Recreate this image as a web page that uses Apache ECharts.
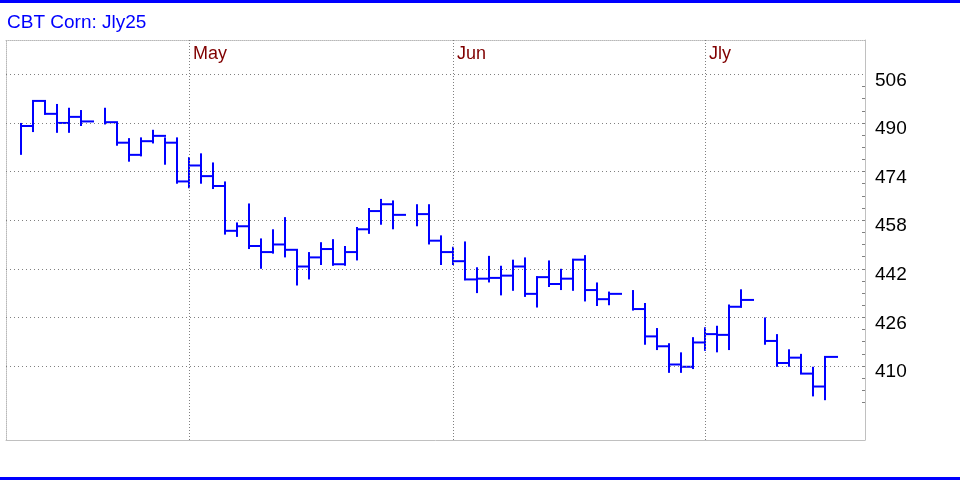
<!DOCTYPE html>
<html>
<head>
<meta charset="utf-8">
<script src="https://cdn.jsdelivr.net/npm/echarts@6/dist/echarts.min.js"></script>
<style>
html,body{margin:0;padding:0;background:#fff;}
#chart{width:960px;height:480px;}
</style>
</head>
<body>
<div id="chart"></div>
<script>
// Weekday slots (holidays kept as empty slots)
var dates = ['2025-04-10','2025-04-11','2025-04-14','2025-04-15','2025-04-16','2025-04-17','2025-04-18',
  '2025-04-21','2025-04-22','2025-04-23','2025-04-24','2025-04-25','2025-04-28','2025-04-29','2025-04-30',
  '2025-05-01','2025-05-02','2025-05-05','2025-05-06','2025-05-07','2025-05-08','2025-05-09',
  '2025-05-12','2025-05-13','2025-05-14','2025-05-15','2025-05-16','2025-05-19','2025-05-20','2025-05-21',
  '2025-05-22','2025-05-23','2025-05-26','2025-05-27','2025-05-28','2025-05-29','2025-05-30',
  '2025-06-02','2025-06-03','2025-06-04','2025-06-05','2025-06-06','2025-06-09','2025-06-10','2025-06-11',
  '2025-06-12','2025-06-13','2025-06-16','2025-06-17','2025-06-18','2025-06-19','2025-06-20',
  '2025-06-23','2025-06-24','2025-06-25','2025-06-26','2025-06-27','2025-06-30',
  '2025-07-01','2025-07-02','2025-07-03','2025-07-04','2025-07-07','2025-07-08','2025-07-09','2025-07-10',
  '2025-07-11','2025-07-14'];

var highs = [490.0,497.25,497.25,496.25,495.0,494.25,null,
  495.0,490.25,485.0,485.25,487.75,485.25,485.25,478.75,
  480.0,477.0,470.75,457.25,463.5,452.0,455.0,
  459.0,448.25,447.5,450.75,451.75,449.5,455.75,462.0,
  465.0,464.5,null,463.25,463.25,453.0,449.25,
  451.0,442.5,446.25,443.0,445.0,445.75,439.5,444.75,
  442.0,445.25,446.5,437.5,434.5,null,435.0,
  430.75,422.5,417.5,414.5,419.5,422.75,
  423.25,430.25,435.25,null,426.0,420.5,415.5,414.0,
  409.75,413.0];

var lows = [479.5,487.0,492.75,486.75,486.75,489.0,null,
  489.5,482.5,477.25,479.0,483.25,476.25,470.0,468.5,
  470.0,468.25,453.25,452.5,448.5,442.0,447.0,
  445.75,436.5,438.5,443.25,443.0,443.0,444.75,453.5,
  456.5,455.0,null,456.0,450.0,443.25,443.25,
  438.25,434.0,437.5,433.25,434.75,432.75,429.25,436.0,
  435.0,434.75,431.25,429.75,430.0,null,428.25,
  417.0,415.25,407.75,407.75,409.0,415.0,
  414.5,415.25,429.25,null,417.0,409.75,409.75,407.5,
  400.0,398.75];

var closes = [489.0,497.25,493.0,490.0,492.0,490.5,null,
  490.25,483.5,479.5,484.0,485.75,483.5,470.75,476.0,
  472.5,469.25,454.5,456.0,449.5,447.5,450.0,
  448.25,442.75,445.75,448.5,443.5,447.5,455.0,461.0,
  463.25,459.75,null,460.0,451.25,447.5,444.5,
  438.5,438.75,439.0,439.75,442.75,433.75,439.25,437.0,
  438.75,445.0,435.0,432.0,433.75,null,428.75,
  419.75,416.5,410.5,409.75,417.75,420.5,
  420.25,429.5,431.75,null,418.25,411.0,412.75,407.5,
  403.25,413.0];

var yTickLabels = [410, 426, 442, 458, 474, 490, 506];
var yMinorTicks = [398,402,406,410,414,418,422,426,430,434,438,442,446,450,454,458,
  462,466,470,474,478,482,486,490,494,498,502];
var monthNames = ['Jan','Feb','Mar','Apr','May','Jun','Jly','Aug','Sep','Oct','Nov','Dec'];

// month boundary markers: at last slot of a month, labelled with next month
var monthSlots = [], monthLabels = {};
for (var i = 0; i < dates.length - 1; i++) {
  var m1 = +dates[i].slice(5, 7), m2 = +dates[i + 1].slice(5, 7);
  if (m1 !== m2) { monthSlots.push(i); monthLabels[i] = monthNames[m2 - 1]; }
}

var barData = [];
for (var k = 0; k < dates.length; k++) {
  if (highs[k] == null) continue;
  barData.push([k, highs[k], lows[k], closes[k]]);
}

var X_MIN = -1.25, X_MAX = 70.3333;
var Y_MIN = 385.65, Y_MAX = 517.3;
var FONT = '"Liberation Sans", Arial, sans-serif';

var chart = echarts.init(document.getElementById('chart'), null, {renderer: 'canvas'});
chart.setOption({
  animation: false,
  backgroundColor: '#ffffff',
  title: {
    text: 'CBT Corn: Jly25', left: 2, top: 8,
    textStyle: {color: '#0000ff', fontSize: 19, fontWeight: 'normal', fontFamily: FONT}
  },
  graphic: [
    {type: 'rect', left: 0, top: 0, shape: {width: 960, height: 3}, style: {fill: '#0000ff'}, silent: true},
    {type: 'rect', left: 0, top: 477, shape: {width: 960, height: 3}, style: {fill: '#0000ff'}, silent: true}
  ],
  grid: {left: 6, top: 40, right: 95, bottom: 40, containLabel: false},
  xAxis: [
    {type: 'value', min: X_MIN, max: X_MAX, position: 'bottom',
     axisLine: {show: true, onZero: false, lineStyle: {color: '#c0c0c0', width: 1}},
     axisTick: {show: false}, axisLabel: {show: false}, splitLine: {show: false}},
    {type: 'value', min: X_MIN, max: X_MAX, position: 'top',
     axisLine: {show: true, onZero: false, lineStyle: {color: '#b8b8b8', width: 1, type: [1, 1]}},
     axisTick: {show: false}, splitLine: {show: false},
     axisLabel: {show: true, inside: true, customValues: monthSlots,
       formatter: function (v) { return monthLabels[Math.round(v)] || ''; },
       color: '#800000', fontSize: 18, fontFamily: FONT, align: 'left', verticalAlign: 'middle',
       margin: 14, padding: [0, 0, 0, 4]}}
  ],
  yAxis: [
    {type: 'value', min: Y_MIN, max: Y_MAX, position: 'right',
     axisLine: {show: true, onZero: false, lineStyle: {color: '#c0c0c0', width: 1}},
     axisTick: {show: true, inside: true, length: 3, customValues: yMinorTicks, lineStyle: {color: '#808080'}},
     axisLabel: {show: true, customValues: yTickLabels, margin: 10, color: '#000000', fontSize: 19,
       fontFamily: FONT, verticalAlign: 'top', lineHeight: 12},
     splitLine: {show: false}},
    {type: 'value', min: Y_MIN, max: Y_MAX, position: 'left',
     axisLine: {show: true, onZero: false, lineStyle: {color: '#b8b8b8', width: 1, type: [1, 1]}},
     axisTick: {show: false}, axisLabel: {show: false}, splitLine: {show: false}}
  ],
  series: [
    {
      type: 'line', data: [], xAxisIndex: 0, yAxisIndex: 0, silent: true,
      markLine: {
        silent: true, symbol: ['none', 'none'], animation: false,
        label: {show: false},
        data: yTickLabels.map(function (v) {
          return {yAxis: v, lineStyle: {color: '#808080', width: 1, type: [1, 3]}};
        }).concat(monthSlots.map(function (s) {
          return {xAxis: s, lineStyle: {color: '#808080', width: 1, type: [1, 2]}};
        }))
      }
    },
    {
      type: 'custom', xAxisIndex: 0, yAxisIndex: 0, data: barData, silent: true,
      encode: {x: 0, y: [1, 2, 3]},
      renderItem: function (params, api) {
        var idx = api.value(0);
        var pH = api.coord([idx, api.value(1)]);
        var pL = api.coord([idx, api.value(2)]);
        var pC = api.coord([idx, api.value(3)]);
        var pN = api.coord([idx + 1, api.value(3)]);
        var st = {stroke: '#0000ff', lineWidth: 2, fill: null};
        return {
          type: 'group',
          children: [
            {type: 'line', shape: {x1: pH[0], y1: pH[1], x2: pL[0], y2: pL[1]}, style: st},
            {type: 'line', shape: {x1: pC[0] - 1, y1: pC[1], x2: pN[0] + 1, y2: pN[1]}, style: st}
          ]
        };
      }
    }
  ]
});
</script>
</body>
</html>
